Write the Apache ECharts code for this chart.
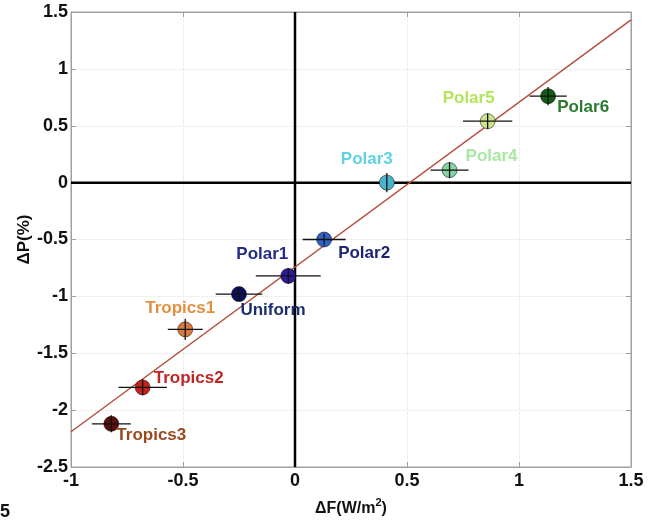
<!DOCTYPE html>
<html><head><meta charset="utf-8">
<script src="https://cdn.jsdelivr.net/npm/echarts@6/dist/echarts.min.js"></script>
<style>html,body{margin:0;padding:0;background:#fff}#c{width:653px;height:522px}</style>
</head><body><div id="c"></div>
<script>
const names = ['Tropics3','Tropics2','Tropics1','Uniform','Polar1','Polar2','Polar3','Polar4','Polar5','Polar6'];
const dF    = [-0.82, -0.68, -0.49, -0.25, -0.03, 0.13, 0.41, 0.69, 0.86, 1.13];
const dP    = [-2.12, -1.80, -1.29, -0.98, -0.82, -0.50, 0.00, 0.11, 0.54, 0.76];
const dFerr = [0.087, 0.108, 0.078, 0.104, 0.145, 0.096, 0.0, 0.085, 0.11, 0.083];
const dPerr = [0.075, 0.07, 0.094, 0.06, 0.07, 0.05, 0.085, 0.07, 0.07, 0.08];
const fitX  = [-1, 1.5];
const fitY  = [-2.19, 1.43];

const markerColors = ['#5a0e0a','#c4221c','#d97a3e','#0c0f5c','#2c1c9c','#2f62c4','#4bb4cc','#84d4a4','#cde48a','#125c14'];
const labelColors  = ['#9a4a1e','#c02626','#e0903e','#1b2f6e','#222c86','#1e2470','#62d2e2','#a8e8a2','#b4e45c','#2a7a2e'];
const labelOffsets = [[40,12],[46,-9],[-5,-21],[34,16],[-26,-22],[40,14],[-20,-23],[42,-14],[-19,-23],[35,11]];

const chart = echarts.init(document.getElementById('c'));
const font = 'Liberation Sans, Arial, sans-serif';

const pts = names.map((n,i)=>({
  value:[dF[i], dP[i]],
  name:n,
  itemStyle:{color:markerColors[i], opacity:1, borderColor:'rgba(0,0,0,0.5)', borderWidth:1},
  label:{show:true, formatter:n, color:labelColors[i], opacity:1, offset:labelOffsets[i]}
}));

const errData = names.map((n,i)=>[dF[i], dP[i], dFerr[i], dPerr[i]]);

chart.setOption({
  animation:false,
  grid:{left:71, right:22, top:12, bottom:55, show:true, borderColor:'#a0a0a0', borderWidth:1},
  xAxis:[
    {type:'value', min:-1, max:1.5, interval:0.5, position:'bottom',
     name:'{a|ΔF(W/m}{s|2}{a|)}', nameLocation:'middle', nameGap:30,
     nameTextStyle:{rich:{a:{fontFamily:font, fontWeight:'bold', fontSize:16, color:'#111', verticalAlign:'bottom'},
                          s:{fontFamily:font, fontWeight:'bold', fontSize:11, color:'#111', verticalAlign:'top', padding:[0,0,9,0]}}},
     axisLine:{show:true, onZero:false, lineStyle:{color:'#a0a0a0'}},
     axisTick:{show:true, inside:true, length:5, lineStyle:{color:'#a0a0a0'}},
     axisLabel:{color:'#111', fontFamily:font, fontWeight:'bold', fontSize:18, margin:5},
     splitLine:{show:true, lineStyle:{color:'#e2e2e2', type:'dotted'}}},
    {type:'value', min:-1, max:1.5, interval:0.5, position:'top',
     axisLine:{show:true, onZero:false, lineStyle:{color:'#a0a0a0'}},
     axisTick:{show:true, inside:true, length:5, lineStyle:{color:'#a0a0a0'}},
     axisLabel:{show:false}, splitLine:{show:false}}
  ],
  yAxis:[
    {type:'value', min:-2.5, max:1.5, interval:0.5, position:'left',
     name:'ΔP(%)', nameLocation:'middle', nameGap:38, nameMoveOverlap:false,
     nameTextStyle:{fontFamily:font, fontWeight:'bold', fontSize:17, color:'#111'},
     axisLine:{show:true, onZero:false, lineStyle:{color:'#a0a0a0'}},
     axisTick:{show:true, inside:true, length:5, lineStyle:{color:'#a0a0a0'}},
     axisLabel:{color:'#111', fontFamily:font, fontWeight:'bold', fontSize:18, margin:3},
     splitLine:{show:true, lineStyle:{color:'#e2e2e2', type:'dotted'}}},
    {type:'value', min:-2.5, max:1.5, interval:0.5, position:'right',
     axisLine:{show:true, onZero:false, lineStyle:{color:'#a0a0a0'}},
     axisTick:{show:true, inside:true, length:5, lineStyle:{color:'#a0a0a0'}},
     axisLabel:{show:false}, splitLine:{show:false}}
  ],
  graphic:[
    {type:'text', left:0, top:503, style:{text:'5', font:'bold 18px Liberation Sans, Arial', fill:'#111'}}
  ],
  series:[
    {type:'line', data:[[0,-2.5],[0,1.5]], symbol:'none', lineStyle:{color:'#000', width:2.5}, z:2, silent:true},
    {type:'line', data:[[-1,0],[1.5,0]], symbol:'none', lineStyle:{color:'#000', width:2.5}, z:2, silent:true},
    {type:'line', data:fitX.map((x,i)=>[x, fitY[i]]), symbol:'none', lineStyle:{color:'#b5503c', width:1.5}, z:3, silent:true},
    {type:'scatter', data:pts, symbolSize:15, z:4,
     label:{position:'inside', fontFamily:font, fontWeight:'bold', fontSize:17}},
    {type:'custom', z:5, data:errData, renderItem:(params, api)=>{
      const x=api.value(0), y=api.value(1), ex=api.value(2), ey=api.value(3);
      const l=api.coord([x-ex,y]), r=api.coord([x+ex,y]);
      const t=api.coord([x,y+ey]), b=api.coord([x,y-ey]);
      const st={stroke:'#111', lineWidth:1.3};
      const ch=[];
      if(ex>0) ch.push({type:'line', shape:{x1:l[0],y1:l[1],x2:r[0],y2:r[1]}, style:st});
      if(ey>0) ch.push({type:'line', shape:{x1:t[0],y1:t[1],x2:b[0],y2:b[1]}, style:st});
      return {type:'group', children:ch};
    }}
  ]
});
</script></body></html>
